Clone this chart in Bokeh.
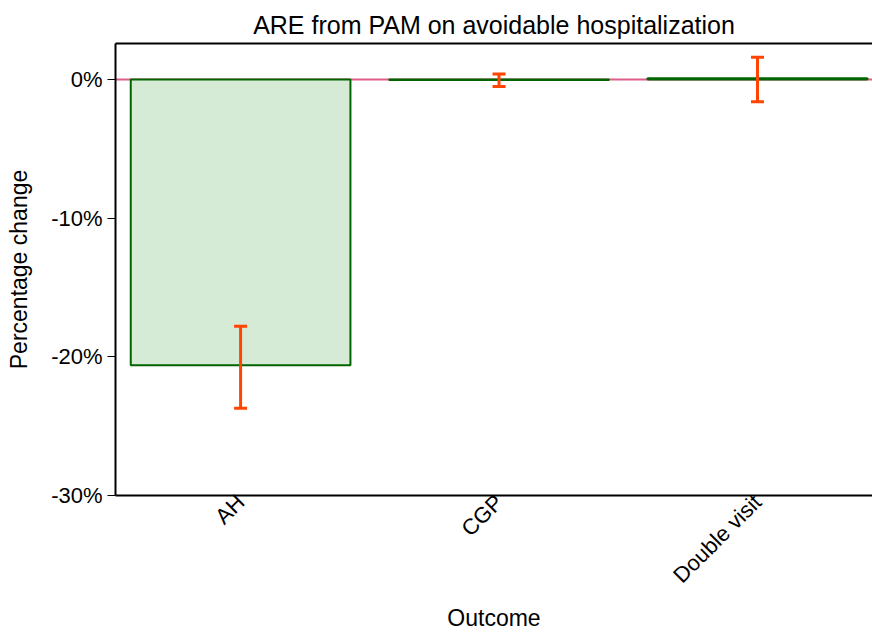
from bokeh.plotting import figure
from bokeh.models import Range1d, FixedTicker, LinearAxis, ColumnDataSource, Span, Whisker, TeeHead
from bokeh.embed import file_html
from bokeh.resources import INLINE

categories = ["AH", "CGP", "Double visit"]
estimates = [-20.6, -0.03, 0.1]
lower = [-23.7, -0.5, -1.6]
upper = [-17.8, 0.4, 1.6]
y_ticks = [0, -10, -20, -30]

FONT = "Liberation Sans"
xs = list(range(len(categories)))
src = ColumnDataSource(dict(x=xs, top=estimates, lower=lower, upper=upper))

p = figure(width=872, height=633, output_backend="svg", toolbar_location=None,
           x_range=Range1d(-0.484, 2.445), y_range=Range1d(-30, 2.6),
           title="ARE from PAM on avoidable hospitalization",
           min_border_left=115, min_border_right=0, min_border_top=43, min_border_bottom=0)
p.title.align = "center"
p.title.text_font = FONT
p.title.text_font_size = "25px"
p.title.text_font_style = "normal"
p.title.text_color = "black"
p.title.standoff = 9

p.add_layout(Span(location=0, dimension="width", line_color="#d6336c", line_width=2,
                  line_alpha=0.8, level="underlay"))
p.vbar(x="x", top="top", bottom=0, width=0.85, source=src,
       fill_color="#d5ebd5", line_color="#006400", line_width=2)
p.add_layout(Whisker(source=src, base="x", lower="lower", upper="upper",
                     line_color="#ff4500", line_width=3, level="overlay",
                     upper_head=TeeHead(size=13, line_color="#ff4500", line_width=3),
                     lower_head=TeeHead(size=13, line_color="#ff4500", line_width=3)))

p.xgrid.visible = False
p.ygrid.visible = False
p.outline_line_color = None
p.background_fill_color = "white"
p.border_fill_color = "white"

p.xaxis.ticker = FixedTicker(ticks=xs)
p.xaxis.major_label_overrides = {i: c for i, c in enumerate(categories)}
p.xaxis.major_label_orientation = 0.785
p.xaxis.axis_label = "Outcome"
p.yaxis.axis_label = "Percentage change"
p.yaxis.ticker = FixedTicker(ticks=y_ticks)
p.yaxis.major_label_overrides = {t: f"{t}%" for t in y_ticks}

for ax in (p.xaxis[0], p.yaxis[0]):
    ax.axis_line_width = 2
    ax.axis_line_color = "black"
    ax.major_tick_line_color = "black"
    ax.major_tick_line_width = 1
    ax.major_tick_out = 8
    ax.major_tick_in = 0
    ax.minor_tick_line_color = None
    ax.major_label_text_font = FONT
    ax.major_label_text_font_size = "22px"
    ax.major_label_text_color = "black"
    ax.axis_label_text_font = FONT
    ax.axis_label_text_font_size = "23px"
    ax.axis_label_text_font_style = "normal"
    ax.axis_label_text_color = "black"
p.xaxis.major_tick_line_color = None
p.xaxis.major_tick_out = 0
p.xaxis.major_label_standoff = 3
p.xaxis.axis_label_standoff = 5
p.yaxis.axis_label_standoff = 16

top_ax = LinearAxis(axis_line_color="black", axis_line_width=2,
                    major_tick_line_color=None, minor_tick_line_color=None,
                    major_label_text_font_size="0px", ticker=FixedTicker(ticks=[]))
p.add_layout(top_ax, "above")

open("out.html", "w").write(file_html(p, INLINE))
